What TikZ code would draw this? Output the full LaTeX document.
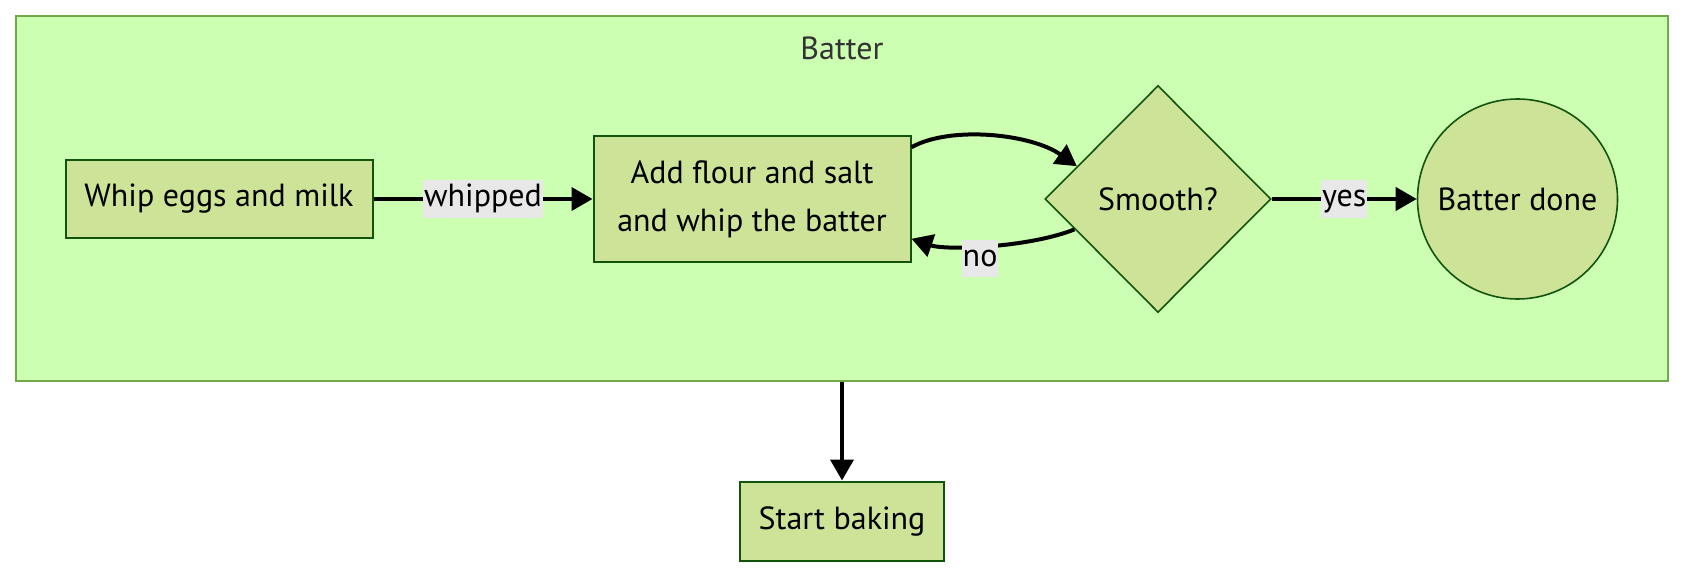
\documentclass[tikz,border=0pt]{standalone}
\usepackage{fontspec}
\setmainfont{PT Sans}
\usetikzlibrary{shapes.geometric,arrows.meta}
\definecolor{clusterfill}{HTML}{CDFFB2}
\definecolor{clusterline}{HTML}{6EAA49}
\definecolor{nodefill}{HTML}{CDE498}
\definecolor{nodeline}{HTML}{13540C}
\definecolor{labelbg}{HTML}{E8E8E8}
\definecolor{titlecol}{HTML}{333333}
\begin{document}
\begin{tikzpicture}[x=0.5pt,y=-0.5pt,
  every node/.style={font=\fontsize{16}{24}\selectfont},
  cluster/.style={draw=clusterline,fill=clusterfill,line width=1pt,minimum width=826pt,minimum height=182.5pt,inner sep=0pt},
  box/.style={draw=nodeline,fill=nodefill,line width=1pt,inner sep=0pt,align=center},
  decision/.style={diamond,draw=nodeline,fill=nodefill,line width=0.8pt,inner sep=0pt,minimum width=113pt,minimum height=113.5pt},
  terminal/.style={circle,draw=nodeline,fill=nodefill,line width=0.8pt,inner sep=0pt,minimum size=100pt},
  edge/.style={line width=2pt,-{Triangle[length=10.5pt,width=11.5pt]}},
  elabel/.style={fill=labelbg,inner xsep=0.5pt,inner ysep=1.7pt,text height=11.5pt,text depth=3.8pt}
]
\useasboundingbox (0,0) rectangle (1684,576);
\node[cluster] (cluster) at (842,198.5) {};
\node[text=titlecol] (title) at (842,48) {Batter};
\node[box,minimum width=153.5pt,minimum height=39.3pt] (A) at (219,199) {Whip eggs and milk};
\node[box,minimum width=158.5pt,minimum height=63pt] (B) at (752,199) {Add flour and salt\\and whip the batter};
\node[decision] (C) at (1158,199) {Smooth?};
\node[terminal] (D) at (1517.5,199) {Batter done};
\node[box,minimum width=102.3pt,minimum height=39.5pt] (E) at (842,521) {Start baking};
\draw[edge] (A) -- node[elabel] {whipped} (B);
\draw[edge] (B.18) .. controls +(40,-22) and +(-45,-32) .. (C.158);
\draw[edge] (C.200) .. controls +(-45,18) and +(35,12) .. node[elabel,pos=0.55,yshift=-6.5pt] {no} (B.-14);
\draw[edge] (C) -- node[elabel] {yes} (D);
\draw[edge] (cluster.south) -- (E.north);
\end{tikzpicture}
\end{document}
